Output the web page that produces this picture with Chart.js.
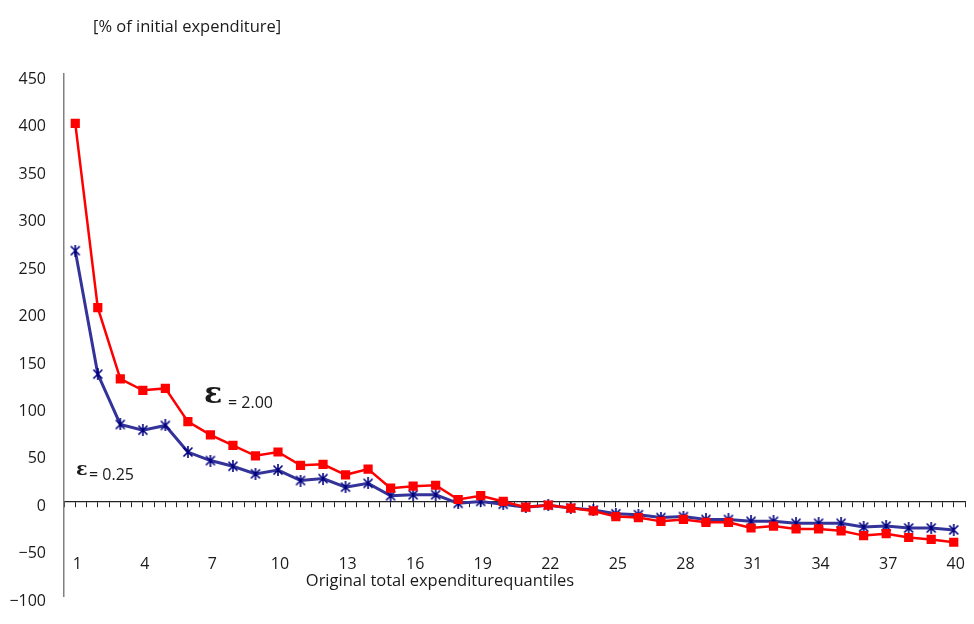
<!DOCTYPE html>
<html>
<head>
<meta charset="utf-8">
<script src="https://cdn.jsdelivr.net/npm/chart.js@4.4.1/dist/chart.umd.min.js"></script>
<style>
html, body { margin: 0; padding: 0; background: #fff; }
</style>
</head>
<body>
<canvas id="grafico" width="974" height="624"></canvas>
<script>
// cuantiles de gasto total original
const cuantiles = [1,2,3,4,5,6,7,8,9,10,11,12,13,14,15,16,17,18,19,20,
                   21,22,23,24,25,26,27,28,29,30,31,32,33,34,35,36,37,38,39,40];

// epsilon = 2.00 (rojo)
const eps200 = [398, 204, 129, 117, 119, 84, 70, 59, 48, 52,
                38, 39, 28, 34, 14, 16, 17, 2, 6, 0,
                -6, -4, -7, -10, -16, -17, -21, -19, -22, -22,
                -28, -26, -29, -29, -31, -36, -34, -38, -40, -43];

// epsilon = 0.25 (azul)
const eps025 = [264, 134, 81, 75, 80, 52, 43, 37, 29, 33,
                22, 24, 15, 19, 6, 7, 7, -2, 0, -3,
                -6, -4, -7, -9, -13, -14, -17, -16, -19, -19,
                -21, -21, -23, -23, -23, -27, -26, -28, -28, -30];

const etiquetasX = [1,4,7,10,13,16,19,22,25,28,31,34,37,40];

// marcador tipo asterisco (X con linea vertical), como el de Excel
function marcadorEstrella(){
    const c = document.createElement('canvas');
    c.width = 12; c.height = 12;
    const g = c.getContext('2d');
    g.strokeStyle = '#000080';
    g.lineWidth = 1.6;
    g.beginPath();
    g.moveTo(1.5,1.5); g.lineTo(10.5,10.5);
    g.moveTo(10.5,1.5); g.lineTo(1.5,10.5);
    g.moveTo(6,0); g.lineTo(6,12);
    g.stroke();
    return c;
}

const textos = {
    id: 'textos',
    afterDraw(chart){
        const ctx = chart.ctx;
        ctx.save();
        ctx.fillStyle = '#1a1a1a';
        ctx.font = '16.5px "Open Sans"';
        ctx.textAlign = 'left';
        ctx.fillText('[% of initial expenditure]', 93, 32);
        ctx.textAlign = 'center';
        ctx.fillText('Original total expenditurequantiles', 440, 586);

        ctx.textAlign = 'left';
        ctx.font = 'bold 30px "DejaVu Serif"';
        ctx.fillText('\u03B5', 204, 403);
        ctx.font = '16px "Open Sans"';
        ctx.fillText('= 2.00', 228, 408);

        ctx.font = 'bold 19px "DejaVu Serif"';
        ctx.fillText('\u03B5', 76, 475);
        ctx.font = '16px "Open Sans"';
        ctx.fillText('= 0.25', 89, 480);
        ctx.restore();
    }
};

const data = {
    datasets: [{
        label: '\u03B5 = 2.00',
        data: cuantiles.map((q, i) => ({x: q, y: eps200[i]})),
        borderColor: '#ff0000',
        backgroundColor: '#ff0000',
        borderWidth: 2.5,
        pointStyle: 'rect',
        pointRadius: 6.5,
        pointBorderWidth: 0,
        pointHoverRadius: 6.5
    }, {
        label: '\u03B5 = 0.25',
        data: cuantiles.map((q, i) => ({x: q, y: eps025[i]})),
        borderColor: '#333399',
        backgroundColor: '#000080',
        borderWidth: 3,
        pointStyle: marcadorEstrella(),
        pointRadius: 6
    }]
};

const config = {
    type: 'line',
    data: data,
    options: {
        responsive: false,
        animation: false,
        devicePixelRatio: 1,
        layout: { padding: { top: 74, bottom: 24, right: 8, left: 0 } },
        plugins: { legend: { display: false }, tooltip: { enabled: false } },
        elements: { line: { tension: 0 } },
        scales: {
            x: {
                type: 'linear',
                position: { y: 0 },
                min: 0.5,
                max: 40.5,
                // sin relleno lateral: el eje llega hasta el borde derecho
                afterFit: (s) => { s.paddingLeft = 0; s.paddingRight = 0; },
                border: { color: '#222', width: 1.2 },
                grid: { drawOnChartArea: false, tickLength: 5, color: '#222', lineWidth: 1 },
                ticks: {
                    stepSize: 0.5,
                    maxTicksLimit: 200,
                    autoSkip: false,
                    maxRotation: 0,
                    padding: 48,
                    labelOffset: 2,
                    color: '#1a1a1a',
                    font: { family: 'Open Sans', size: 16 },
                    callback: (v) => etiquetasX.includes(v) ? String(v) : ''
                }
            },
            y: {
                min: -100,
                max: 450,
                afterFit: (s) => { s.width = 64; },
                border: { color: '#808080', width: 1.5 },
                grid: { display: false, drawTicks: false },
                ticks: {
                    stepSize: 50,
                    maxTicksLimit: 20,
                    padding: 18,
                    labelOffset: 5,
                    color: '#1a1a1a',
                    font: { family: 'Open Sans', size: 16 },
                    callback: (v) => String(v).replace('-', '\u2212')
                }
            }
        }
    },
    plugins: [textos]
};

new Chart(document.getElementById('grafico'), config);
</script>
</body>
</html>
